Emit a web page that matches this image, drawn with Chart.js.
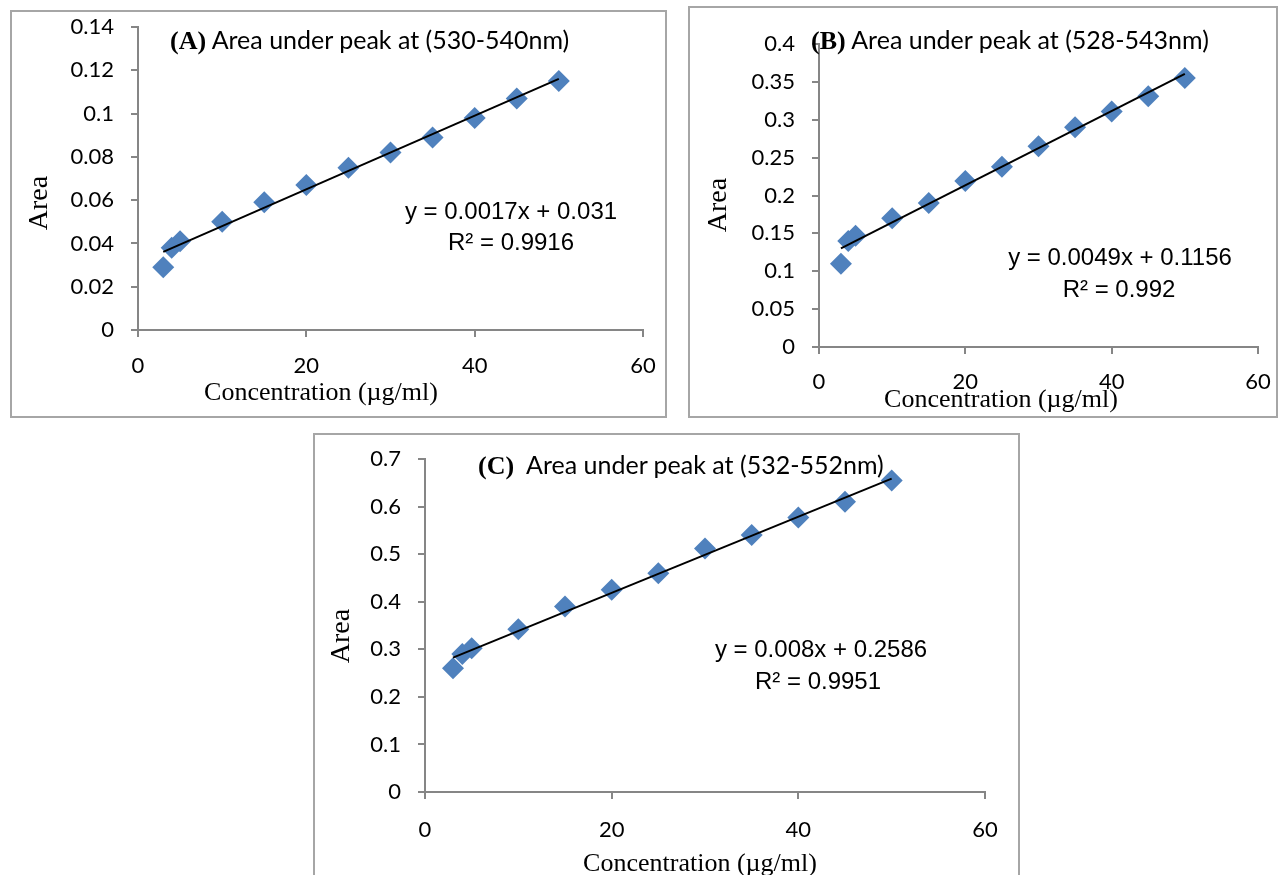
<!DOCTYPE html>
<html>
<head>
<meta charset="utf-8">
<script src="https://cdn.jsdelivr.net/npm/chart.js@4.4.1/dist/chart.umd.min.js"></script>
<style>
  body { margin: 0; background: #fff; width: 1280px; height: 875px; position: relative; overflow: hidden; }
  .box { position: absolute; border: 2px solid #a6a6a6; box-sizing: border-box; pointer-events: none; }
  canvas { position: absolute; }
  .txt { position: absolute; white-space: nowrap; color: #000; }
  .ttl { font-family: Lato, "Open Sans", sans-serif; font-size: 25px; transform: translateY(-50%); }
  .ttl b { font-family: "Liberation Serif", serif; font-size: 26px; }
  .eq { font-family: "Liberation Sans", Arial, sans-serif; font-size: 24px; transform: translate(-50%, -50%); }
  .xt { font-family: "Liberation Serif", serif; font-size: 26px; transform: translate(-50%, -50%); }
  .yt { font-family: "Liberation Serif", serif; font-size: 28px; transform: translate(-50%, -50%) rotate(-90deg); }
</style>
</head>
<body>
<canvas id="chartA"></canvas>
<canvas id="chartB"></canvas>
<canvas id="chartC"></canvas>

<div class="box" style="left:10px;top:10px;width:657px;height:408px"></div>
<div class="box" style="left:688px;top:6px;width:590px;height:412px"></div>
<div class="box" style="left:313px;top:433px;width:707px;height:450px"></div>

<div class="txt ttl" style="left:170px;top:40px"><b>(A)</b> Area under peak at (530-540nm)</div>
<div class="txt ttl" style="left:811px;top:40px"><b>(B)</b> Area under peak at (528-543nm)</div>
<div class="txt ttl" style="left:478px;top:465px"><b>(C)</b>&nbsp;&nbsp;Area under peak at (532-552nm)</div>

<div class="txt eq" style="left:511px;top:211px">y = 0.0017x + 0.031</div>
<div class="txt eq" style="left:511px;top:242px">R² = 0.9916</div>
<div class="txt eq" style="left:1120px;top:257px">y = 0.0049x + 0.1156</div>
<div class="txt eq" style="left:1119px;top:289px">R² = 0.992</div>
<div class="txt eq" style="left:821px;top:649px">y = 0.008x + 0.2586</div>
<div class="txt eq" style="left:818px;top:681px">R² = 0.9951</div>

<div class="txt yt" style="left:38px;top:203px">Area</div>
<div class="txt yt" style="left:717px;top:205px">Area</div>
<div class="txt yt" style="left:340px;top:636px">Area</div>

<div class="txt xt" style="left:321px;top:392px">Concentration (µg/ml)</div>
<div class="txt xt" style="left:1001px;top:399px">Concentration (µg/ml)</div>
<div class="txt xt" style="left:700px;top:863px">Concentration (µg/ml)</div>

<script>
// concentrations (µg/ml)
var conc = [3, 4, 5, 10, 15, 20, 25, 30, 35, 40, 45, 50];

// area under peak for each band
var areaA = [0.029, 0.038, 0.041, 0.050, 0.059, 0.067, 0.075, 0.082, 0.089, 0.098, 0.107, 0.115];
var areaB = [0.110, 0.140, 0.147, 0.170, 0.190, 0.219, 0.238, 0.265, 0.290, 0.311, 0.331, 0.355];
var areaC = [0.260, 0.290, 0.302, 0.342, 0.390, 0.425, 0.460, 0.512, 0.540, 0.577, 0.610, 0.655];

// linear trendline (slope, intercept) as printed on the charts
var fitA = [0.0017, 0.031];
var fitB = [0.0049, 0.1156];
var fitC = [0.008, 0.2586];

// tick labels
var xTicks = [0, 20, 40, 60];
var yTicksA = [0, 0.02, 0.04, 0.06, 0.08, 0.1, 0.12, 0.14];
var yTicksB = [0, 0.05, 0.1, 0.15, 0.2, 0.25, 0.3, 0.35, 0.4];
var yTicksC = [0, 0.1, 0.2, 0.3, 0.4, 0.5, 0.6, 0.7];

var axisGrey = '#868686';
var tickFont = { family: 'Lato, "Open Sans", sans-serif', size: 22 };
var slack = 45; // room above / right of the plot so chart.js keeps our padding

// geo: plot rectangle on the page (l, t, r, b), y-axis box width, x-axis box height, x label padding
function makeChart(id, values, fit, yTicks, geo) {
    var cv = document.getElementById(id);
    var left = geo.l - geo.yw, top = geo.t - slack;
    cv.width = geo.r + slack - left;
    cv.height = geo.b + geo.xh - top;
    cv.style.left = left + 'px';
    cv.style.top = top + 'px';

    var pts = conc.map(function (c, i) { return { x: c, y: values[i] }; });
    var x0 = conc[0], x1 = conc[conc.length - 1];
    var trend = [{ x: x0, y: fit[0] * x0 + fit[1] }, { x: x1, y: fit[0] * x1 + fit[1] }];

    return new Chart(cv.getContext('2d'), {
        type: 'scatter',
        data: {
            datasets: [{
                type: 'line',
                data: trend,
                borderColor: '#000',
                borderWidth: 2,
                pointRadius: 0,
                order: 0
            }, {
                data: pts,
                pointStyle: 'rectRot',
                pointRadius: 11,
                pointHoverRadius: 11,
                backgroundColor: '#4F81BD',
                borderColor: '#4F81BD',
                borderWidth: 0,
                order: 1
            }]
        },
        options: {
            responsive: false,
            animation: false,
            layout: { padding: { left: 0, top: slack, right: slack, bottom: 0 } },
            plugins: { legend: { display: false }, tooltip: { enabled: false } },
            scales: {
                x: {
                    type: 'linear',
                    min: xTicks[0],
                    max: xTicks[xTicks.length - 1],
                    afterBuildTicks: function (s) { s.ticks = xTicks.map(function (v) { return { value: v }; }); },
                    afterFit: function (s) { s.height = geo.xh; },
                    ticks: { font: tickFont, color: '#000', padding: geo.xpad, maxRotation: 0,
                             callback: function (v) { return String(v); } },
                    grid: { drawOnChartArea: false, drawTicks: true, tickLength: 7, color: axisGrey, lineWidth: 2 },
                    border: { color: axisGrey, width: 2 }
                },
                y: {
                    min: yTicks[0],
                    max: yTicks[yTicks.length - 1],
                    afterBuildTicks: function (s) { s.ticks = yTicks.map(function (v) { return { value: v }; }); },
                    afterFit: function (s) { s.width = geo.yw; },
                    ticks: { font: tickFont, color: '#000', padding: 17,
                             callback: function (v) { return String(v); } },
                    grid: { drawOnChartArea: false, drawTicks: true, tickLength: 7, color: axisGrey, lineWidth: 2 },
                    border: { color: axisGrey, width: 2 }
                }
            }
        }
    });
}

makeChart('chartA', areaA, fitA, yTicksA, { l: 138, t: 27, r: 643, b: 330, yw: 128, xh: 88, xpad: 16 });
makeChart('chartB', areaB, fitB, yTicksB, { l: 819, t: 44, r: 1258, b: 347, yw: 131, xh: 71, xpad: 15 });
makeChart('chartC', areaC, fitC, yTicksC, { l: 425, t: 459, r: 985, b: 792, yw: 112, xh: 83, xpad: 18 });
</script>
</body>
</html>
